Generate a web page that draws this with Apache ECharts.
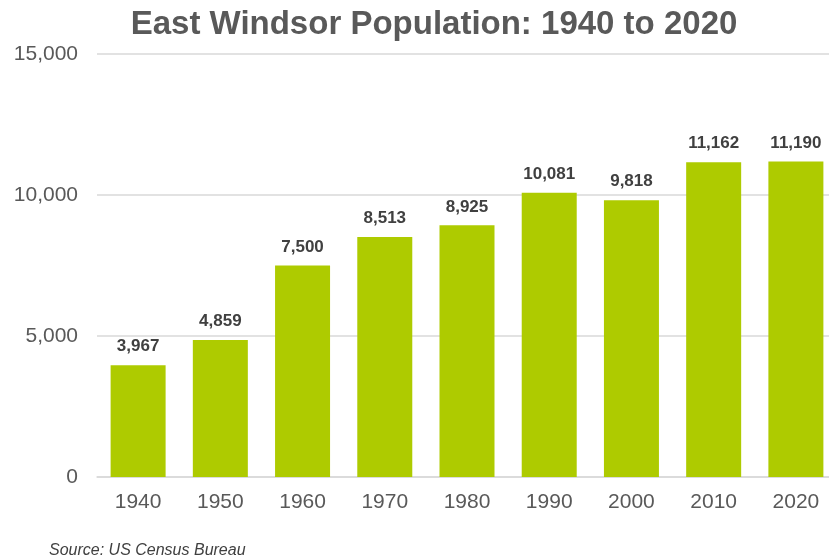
<!DOCTYPE html>
<html>
<head>
<meta charset="utf-8">
<script src="https://cdn.jsdelivr.net/npm/echarts@6/dist/echarts.min.js"></script>
<style>
  html, body { margin: 0; padding: 0; background: #fff; }
  #chart { width: 829px; height: 558px; }
</style>
</head>
<body>
<div id="chart"></div>
<script>
const years = ['1940', '1950', '1960', '1970', '1980', '1990', '2000', '2010', '2020'];
const population = [3967, 4859, 7500, 8513, 8925, 10081, 9818, 11162, 11190];

const chart = echarts.init(document.getElementById('chart'));

chart.setOption({
  animation: false,
  title: [
    {
      text: 'East Windsor Population: 1940 to 2020',
      left: 429,
      top: 3,
      textAlign: 'center',
      textStyle: { fontFamily: 'Liberation Sans', fontSize: 33, fontWeight: 'bold', color: '#595959' }
    },
    {
      text: 'Source: US Census Bureau',
      left: 44,
      top: 538,
      textStyle: { fontFamily: 'Liberation Sans', fontSize: 16, fontStyle: 'italic', fontWeight: 'normal', color: '#404040' }
    }
  ],
  // plot runs a bit past the right edge, like the original
  grid: { left: 97, width: 740, top: 54, bottom: 81, containLabel: false, outerBoundsMode: 'none' },
  xAxis: {
    type: 'category',
    data: years,
    axisLine: { lineStyle: { color: '#d9d9d9', width: 1.5 } },
    axisTick: { show: false },
    axisLabel: { fontFamily: 'Liberation Sans', fontSize: 21, color: '#595959', margin: 15 }
  },
  yAxis: {
    type: 'value',
    min: 0,
    max: 15000,
    interval: 5000,
    axisLine: { show: false },
    axisTick: { show: false },
    splitLine: { lineStyle: { color: '#d9d9d9', width: 1.5 } },
    axisLabel: {
      fontFamily: 'Liberation Sans', fontSize: 21, color: '#595959', margin: 19,
      formatter: v => v.toLocaleString('en-US')
    }
  },
  series: [{
    type: 'bar',
    data: population,
    barWidth: 55,
    itemStyle: { color: '#aecb00' },
    label: {
      show: true,
      position: 'top',
      distance: 10,
      fontFamily: 'Liberation Sans',
      fontSize: 17,
      fontWeight: 'bold',
      color: '#404040',
      formatter: p => p.value.toLocaleString('en-US')
    }
  }]
});
</script>
</body>
</html>
